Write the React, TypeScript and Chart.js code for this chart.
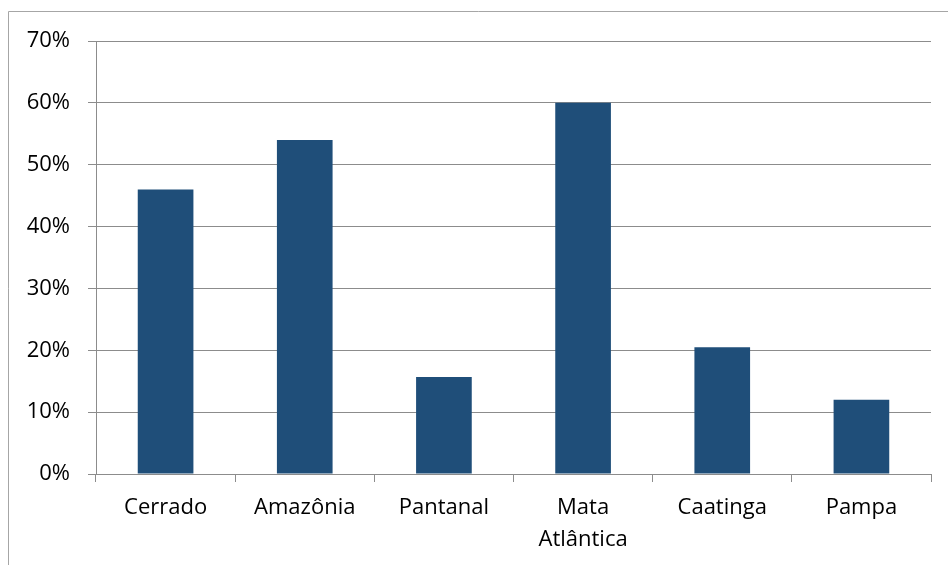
import React, { useEffect, useRef } from "react";
import { Chart, registerables } from "chart.js";

Chart.register(...registerables);

const biomes: (string | string[])[] = [
  "Cerrado",
  "Amazônia",
  "Pantanal",
  ["Mata", "Atlântica"],
  "Caatinga",
  "Pampa",
];
const shares = [46, 54, 15.7, 60, 20.5, 12];
const yMax = 70;
const yStep = 10;

const barColor = "#1F4E79";
const gridColor = "#8C8C8C";
const frameColor = "#A6A6A6";
const fontFamily = "'Open Sans', sans-serif";

// Thin frame around the chart, open to the right and bottom
const framePlugin = {
  id: "frame",
  beforeDraw(chart: Chart) {
    const ctx = chart.ctx;
    ctx.save();
    ctx.strokeStyle = frameColor;
    ctx.lineWidth = 1;
    ctx.beginPath();
    ctx.moveTo(8.5, chart.height);
    ctx.lineTo(8.5, 11.5);
    ctx.lineTo(chart.width, 11.5);
    ctx.stroke();
    ctx.restore();
  },
};

export default function App() {
  const canvasRef = useRef<HTMLCanvasElement | null>(null);

  useEffect(() => {
    if (!canvasRef.current) return;
    const chart = new Chart(canvasRef.current, {
      type: "bar",
      data: {
        labels: biomes,
        datasets: [
          {
            data: shares,
            backgroundColor: barColor,
            borderWidth: 0,
            categoryPercentage: 1,
            barPercentage: 0.4,
          },
        ],
      },
      options: {
        responsive: false,
        animation: false,
        layout: { padding: { top: 41, right: 17, left: 0, bottom: 0 } },
        plugins: {
          legend: { display: false },
          tooltip: { enabled: false },
        },
        scales: {
          x: {
            grid: {
              offset: true,
              drawOnChartArea: false,
              drawTicks: true,
              tickLength: 8,
              color: gridColor,
            },
            border: { color: gridColor, width: 1 },
            ticks: {
              color: "#000",
              autoSkip: false,
              maxRotation: 0,
              padding: 10,
              font: { family: fontFamily, size: 22, lineHeight: 1.45 },
            },
            afterFit(scale: any) {
              scale.height = 91;
            },
          },
          y: {
            min: 0,
            max: yMax,
            grid: {
              color: gridColor,
              drawTicks: true,
              tickLength: 8,
            },
            border: { color: gridColor, width: 1 },
            ticks: {
              stepSize: yStep,
              color: "#000",
              padding: 18,
              font: { family: fontFamily, size: 22 },
              callback: (v: any) => `${v}%`,
            },
            afterFit(scale: any) {
              scale.width = 96;
            },
          },
        },
      },
      plugins: [framePlugin],
    });
    return () => chart.destroy();
  }, []);

  return (
    <div style={{ position: "fixed", left: 0, top: 0, width: 948, height: 565, background: "#fff" }}>
      <canvas ref={canvasRef} width={948} height={565} />
    </div>
  );
}
